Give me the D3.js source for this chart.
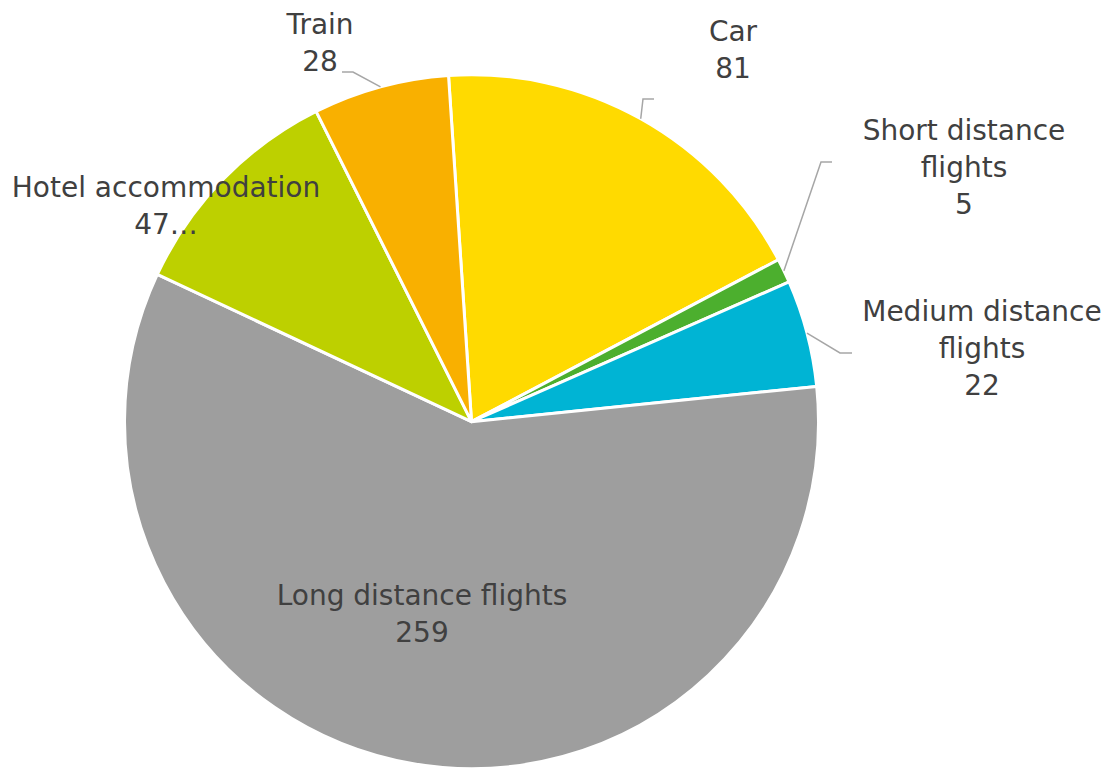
<!DOCTYPE html>
<meta charset="utf-8">
<style>

body {
  margin: 0;
  background: #fff;
}

text {
  font-family: "DejaVu Sans", sans-serif;
  font-size: 28px;
  fill: #404040;
}

.leader {
  fill: none;
  stroke: #a6a6a6;
  stroke-width: 1.5;
}

</style>
<body>
<script src="https://cdn.jsdelivr.net/npm/d3@7"></script>
<script>

// data
var categories = ["Car", "Short distance flights", "Medium distance flights",
                  "Long distance flights", "Hotel accommodation", "Train"];
var values = [81, 5, 22, 259, 47, 28];
var valueLabels = ["81", "5", "22", "259", "47\u2026", "28"];
var colors = ["#ffda00", "#4caf2e", "#00b4d4", "#9e9e9e", "#bdd000", "#f9b000"];

// label layout (lines, centre x, first baseline, leader elbow + end)
var labelLines = [
  ["Car"],
  ["Short distance", "flights"],
  ["Medium distance", "flights"],
  ["Long distance flights"],
  ["Hotel accommodation"],
  ["Train"]
];
var labelPos = [
  {x: 733, y: 41, leader: [[643, 99], [654, 99]]},
  {x: 964, y: 140, leader: [[821, 162], [832, 162]]},
  {x: 982, y: 321, leader: [[840, 353], [852, 353]]},
  {x: 422, y: 605, leader: null},
  {x: 166, y: 197, leader: null},
  {x: 320, y: 34, leader: [[353, 72], [342, 72]]}
];

var width = 1105,
    height = 770,
    cx = 471.5,
    cy = 421.7,
    radius = 347,
    lineH = 37;

var svg = d3.select("body").append("svg")
    .attr("width", width)
    .attr("height", height);

var offset = -3.8 * Math.PI / 180;

var pie = d3.pie()
    .sort(null)
    .startAngle(offset)
    .endAngle(offset + 2 * Math.PI);

var arcs = pie(values);

var arc = d3.arc()
    .innerRadius(0)
    .outerRadius(radius);

var g = svg.append("g")
    .attr("transform", "translate(" + cx + "," + cy + ")");

g.selectAll("path")
    .data(arcs)
  .enter().append("path")
    .attr("d", arc)
    .attr("fill", function(d, i) { return colors[i]; })
    .attr("stroke", "#fff")
    .attr("stroke-width", 3)
    .attr("stroke-linejoin", "round");

// leader lines
arcs.forEach(function(d, i) {
  var p = labelPos[i];
  if (!p.leader) return;
  var mid = (d.startAngle + d.endAngle) / 2;
  var start = [cx + radius * Math.sin(mid), cy - radius * Math.cos(mid)];
  var pts = [start].concat(p.leader);
  svg.append("path")
      .attr("class", "leader")
      .attr("d", d3.line()(pts));
});

// labels
categories.forEach(function(c, i) {
  var p = labelPos[i];
  var lines = labelLines[i].concat([valueLabels[i]]);
  var t = svg.append("text")
      .attr("text-anchor", "middle")
      .attr("x", p.x)
      .attr("y", p.y);
  lines.forEach(function(l, j) {
    t.append("tspan")
        .attr("x", p.x)
        .attr("y", p.y + j * lineH)
        .text(l);
  });
});

</script>
</body>
